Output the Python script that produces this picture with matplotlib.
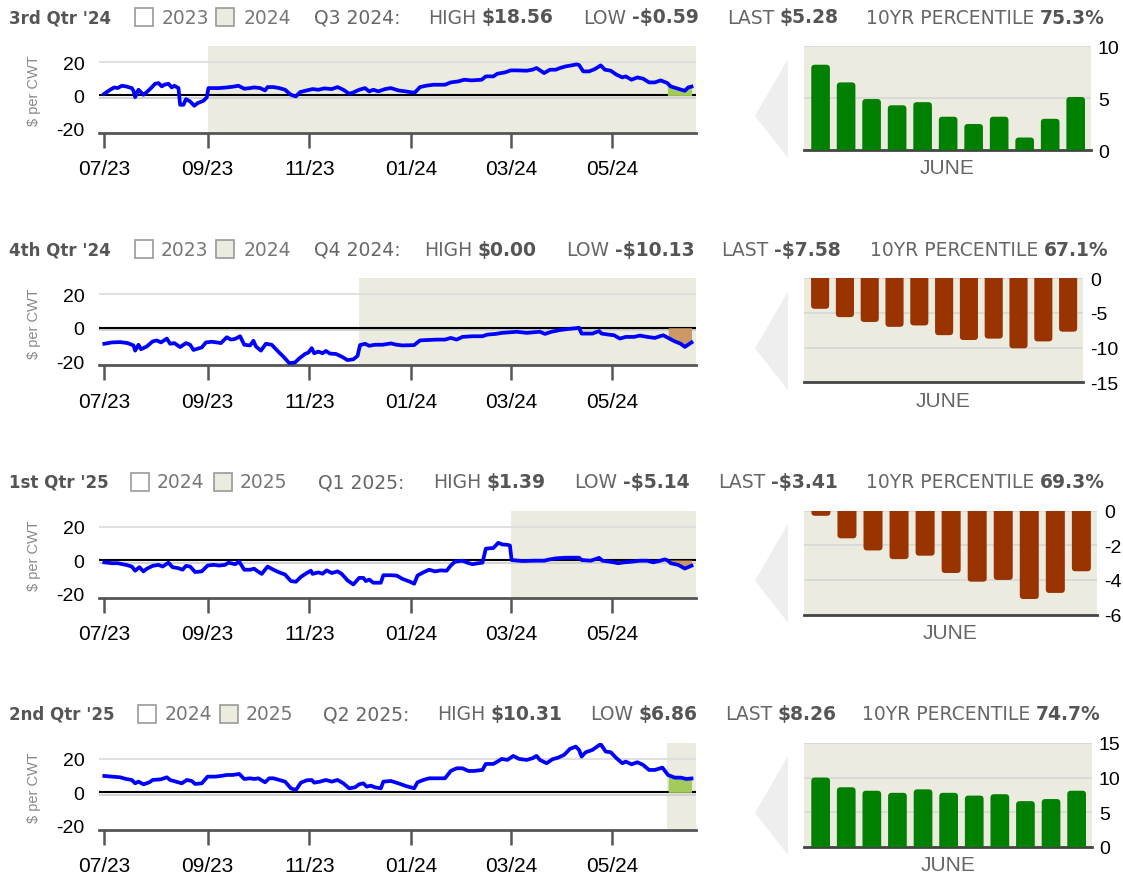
import numpy as np
import pandas as pd
import matplotlib
matplotlib.use("Agg")
import matplotlib.pyplot as plt
import matplotlib.dates as mdates
import matplotlib.transforms as mtransforms
from matplotlib.patches import Polygon, Rectangle, FancyBboxPatch

plt.rcParams["font.family"] = ["Liberation Sans", "DejaVu Sans"]
plt.rcParams["axes.unicode_minus"] = False

W, H = 1123, 879
BEIGE = "#ecebdf"
BLUE = "#0000ff"
GREEN = "#008000"
BROWN = "#993300"
FILL_GREEN = "#a2cb5a"
FILL_BROWN = "#cc9966"
ROW_STEP = 232.3

# ---- data (days after 2023-07-01, value in $/cwt) ----
days_q3_24 = [0, 3.5, 6, 8, 10.5, 13, 16.5, 17.5, 18.5, 20.5, 21.5, 23.5, 25.5, 28, 30.5, 32.5,
              34.5, 36, 38.5, 40.5, 42, 44.5, 45.5, 47.5, 49, 51.5, 54, 56, 59.5, 61.5, 62.5, 69,
              73.5, 77, 80.5, 84, 87.5, 90, 93.5, 96.5, 98, 101.5, 105, 108.5, 112, 115, 117.5,
              121.5, 125, 128.5, 132, 136.5, 140, 143.5, 147, 149.5, 153, 156.5, 159, 161.5, 164.5,
              168.5, 172, 176.5, 181, 184.5, 186.5, 189.5, 193, 197.5, 204.5, 208, 212.5, 216,
              220.5, 226.5, 229, 233.5, 236, 240.5, 244, 247.5, 253.5, 257, 259.5, 264, 267.5, 271,
              273.5, 277, 280.5, 283.5, 285, 287.5, 291, 294.5, 298, 300.5, 304, 307.5, 311, 313,
              316.5, 320, 323.5, 327, 330.5, 334, 338, 340, 344.5, 348.5, 350.5, 352.5]
vals_q3_24 = [1.0, 3.4, 4.8, 4.4, 5.8, 5.4, 4.4, 2.8, -1.0, 3.4, 2.4, 0.4, 2.0, 4.4, 7.0, 7.4,
              5.4, 6.4, 7.0, 4.8, 5.8, 4.4, -5.6, -5.6, -2.2, -3.6, -6.2, -4.6, -3.2, -1.2, 4.4, 4.4,
              4.8, 5.2, 5.8, 4.0, 4.4, 4.8, 4.4, 3.0, 5.0, 5.0, 4.4, 3.4, 0.4, -0.6, 2.0,
              3.0, 3.8, 3.4, 4.2, 3.8, 5.0, 3.4, 1.0, 1.8, 3.4, 4.4, 2.4, 3.4, 2.4,
              3.8, 4.4, 3.0, 2.4, 1.8, 1.8, 5.0, 5.8, 6.4, 6.4, 7.8, 8.4, 9.4,
              9.0, 9.4, 11.4, 11.4, 13.0, 13.8, 15.0, 15.0, 14.8, 15.4, 16.4, 13.4, 15.4, 15.4,
              16.4, 17.4, 18.0, 18.6, 18.2, 14.4, 14.4, 15.8, 18.0, 15.4, 14.8, 12.4, 10.8, 11.4,
              9.4, 10.8, 10.0, 7.8, 7.8, 9.0, 7.4, 5.4, 4.0, 2.8, 4.8, 5.3]

days_q4_24 = [0, 4.5, 9.5, 14, 17.5, 18.5, 20.5, 22, 25.5, 29, 31.5, 34, 37.5, 39.5, 42, 45.5,
              49, 51.5, 53.5, 58.5, 61, 64.5, 67.5, 70, 73.5, 76, 78.5, 81.5, 84, 87.5, 89.5, 91,
              94, 97, 100.5, 104, 107.5, 111, 114.5, 117, 120.5, 122.5, 124.5, 126, 128.5, 131,
              133, 135.5, 139, 142.5, 146, 149.5, 152, 153.5, 156.5, 159, 162.5, 167, 172, 175.5,
              179, 186, 189.5, 195, 200, 204.5, 208, 211.5, 215, 221, 227, 230, 235, 238.5, 244,
              247.5, 253.5, 258, 261.5, 264.5, 268.5, 273.5, 278, 283, 285, 286.5, 293, 297, 298.5,
              302.5, 306, 309.5, 313, 318, 321.5, 326, 330.5, 335.5, 338.5, 342.5, 346, 348.5, 352.5]
vals_q4_24 = [-9.6, -8.8, -8.6, -9.2, -10.6, -13.7, -10.2, -12.9, -11.2, -8.2, -7.6, -8.8, -6.5, -9.6, -9.2, -11.6,
              -9.2, -10.2, -13.3, -11.8, -8.8, -8.4, -8.8, -9.2, -5.7, -7.1, -6.7, -5.1, -10.2, -10.6, -7.8, -11.2,
              -13.7, -9.6, -10.2, -13.9, -17.3, -21.2, -20.8, -18.4, -15.7, -14.9, -12.2, -15.3, -14.3, -15.3,
              -13.9, -15.5, -15.7, -17.3, -19.4, -18.9, -16.9, -10.4, -9.6, -10.8, -10.2, -10.2, -9.4, -10.2,
              -10.6, -10.4, -7.6, -7.3, -7.1, -7.1, -6.1, -7.1, -5.5, -5.1, -5.1, -4.1, -3.7, -3.1, -2.7,
              -2.4, -3.1, -2.7, -2.4, -3.7, -2.4, -1.4, -0.8, -0.3, 0.0, -3.5, -3.5, -2.0, -3.5,
              -4.1, -4.5, -6.5, -5.5, -5.5, -4.7, -5.5, -6.1, -4.5, -6.1, -8.2, -9.6, -11.5, -8.8]

days_q1_25 = [0, 4.5, 8, 13, 16.5, 18.5, 21, 23.5, 25.5, 29, 32.5, 35, 38.5, 41, 44.5, 47, 49,
              51.5, 54.5, 58.5, 62, 65.5, 69, 72.5, 74.5, 78.5, 81, 84, 87.5, 90, 91.5, 94.5, 98,
              101.5, 105, 108.5, 112, 115, 118, 121.5, 124, 125, 128.5, 131, 133.5, 136.5, 140,
              142.5, 146, 149.5, 153, 155.5, 157, 159, 161.5, 166, 167.5, 172, 175.5, 179, 183.5,
              186, 188, 191.5, 195, 198.5, 202, 205.5, 208, 210.5, 215, 218, 221, 224.5, 227, 229,
              233.5, 236.5, 239, 242, 243.5, 244.5, 251, 258, 264, 266.5, 271, 277, 285, 286.5, 292,
              297, 299, 303.5, 308.5, 312, 316.5, 321.5, 326, 329.5, 333, 336.5, 338.5, 340, 344.5,
              348.5, 352.5]
vals_q1_25 = [-1.4, -1.9, -1.9, -2.9, -3.9, -6.4, -4.3, -6.8, -5.2, -3.5, -2.9, -3.9, -1.6, -4.3, -4.9, -5.8, -3.5,
              -3.9, -7.2, -6.8, -3.3, -2.9, -3.3, -2.9, -1.6, -2.5, -1.0, -5.8, -5.8, -5.2, -6.4, -8.3, -3.9,
              -5.8, -7.4, -8.7, -12.6, -13.0, -10.1, -7.8, -6.4, -8.3, -7.4, -8.2, -6.2, -7.8, -6.8,
              -8.3, -12.2, -14.6, -10.7, -10.7, -12.6, -11.7, -13.6, -13.6, -9.1, -9.1, -9.3, -11.3, -13.0,
              -14.2, -9.3, -7.4, -5.8, -6.8, -6.2, -6.4, -3.3, -1.0, -0.4, -1.6, -2.5, -1.9, -1.6, 6.8,
              7.2, 10.3, 9.3, 9.1, 8.7, 0.0, -0.6, -0.4, -0.4, 0.2, 1.0, 1.4, 1.4, 0.0, -0.4,
              1.3, -0.4, -1.0, -1.9, -1.4, -1.0, -0.4, -0.4, -1.4, -0.6, 0.4, -0.4, -1.9, -2.9,
              -5.1, -3.4]

days_q2_25 = [0, 4.5, 9.5, 13, 16.5, 18.5, 20.5, 23.5, 27, 29, 34, 37.5, 39.5, 43, 46.5, 49.5,
              52.5, 54.5, 58.5, 62, 66.5, 70, 73.5, 77, 81, 84, 87.5, 90, 92.5, 96.5, 99, 101.5,
              105, 108.5, 112, 115, 118, 121.5, 124.5, 126, 129.5, 133, 136.5, 140, 143.5, 147,
              150.5, 153, 155.5, 157.5, 160, 162.5, 166, 167.5, 172, 176.5, 181, 186, 188, 191.5,
              195, 200, 204.5, 208, 211.5, 215, 218.5, 222, 227, 229, 233.5, 236, 238.5, 242, 245.5,
              249, 253.5, 257, 259.5, 261.5, 265.5, 269, 272.5, 276, 279.5, 283, 285, 286.5, 289,
              293, 297, 298, 301, 304, 307.5, 311, 313, 316.5, 320, 323.5, 327, 330.5, 335, 338.5,
              342.5, 346, 349.5, 352.5]
vals_q2_25 = [9.8, 9.4, 9.0, 8.0, 7.4, 5.4, 6.4, 4.8, 6.0, 7.4, 7.8, 9.0, 7.4, 6.4, 5.4, 7.4,
              6.8, 5.0, 5.4, 9.4, 9.4, 9.8, 10.4, 10.4, 11.0, 8.0, 8.4, 8.0, 8.4, 6.0, 8.4, 8.4,
              7.4, 6.4, 2.4, 1.4, 5.8, 7.2, 7.4, 5.8, 6.4, 7.4, 6.4, 7.4, 5.4, 2.4,
              3.0, 4.8, 5.4, 3.4, 4.0, 3.0, 2.4, 6.4, 6.8, 5.4, 3.8, 2.4, 6.0, 7.4,
              8.4, 8.4, 8.4, 12.8, 14.4, 14.4, 12.8, 12.8, 13.4, 17.0, 17.0, 18.4, 20.0, 19.4, 21.8,
              20.0, 19.4, 20.4, 21.8, 19.4, 17.4, 19.8, 20.8, 22.4, 26.0, 27.4, 25.4, 21.4, 24.0,
              25.4, 28.2, 28.8, 24.4, 24.0, 20.4, 17.4, 18.4, 16.8, 18.0, 16.4, 13.4, 13.4, 14.8, 10.3,
              8.8, 8.8, 8.0, 8.3]

june_q3_24 = [8.2, 6.5, 4.9, 4.3, 4.6, 3.2, 2.5, 3.2, 1.2, 3.0, 5.1]
june_q4_24 = [-4.4, -5.6, -6.3, -7.0, -6.8, -8.2, -8.9, -8.7, -10.1, -9.1, -7.7]
june_q1_25 = [-0.3, -1.6, -2.3, -2.8, -2.6, -3.6, -4.1, -4.0, -5.1, -4.75, -3.5]
june_q2_25 = [10.0, 8.6, 8.1, 7.8, 8.3, 7.8, 7.4, 7.6, 6.6, 6.9, 8.1]

titles = ["3rd Qtr '24", "4th Qtr '24", "1st Qtr '25", "2nd Qtr '25"]
legend_years = [("2023", "2024"), ("2023", "2024"), ("2024", "2025"), ("2024", "2025")]
periods = ["Q3 2024:", "Q4 2024:", "Q1 2025:", "Q2 2025:"]
highs = ["$18.56", "$0.00", "$1.39", "$10.31"]
lows = ["-$0.59", "-$10.13", "-$5.14", "$6.86"]
lasts = ["$5.28", "-$7.58", "-$3.41", "$8.26"]
pctls = ["75.3%", "67.1%", "69.3%", "74.7%"]
shade_starts = ["2023-09-01", "2023-12-01", "2024-03-01", "2024-06-03"]
bar_ylims = [(0, 10), (-15, 0), (-6, 0), (0, 15)]
bar_yticks = [[0, 5, 10], [-15, -10, -5, 0], [-6, -4, -2, 0], [0, 5, 10, 15]]

# header layout (left x in pixels)
hdr_x = [
    dict(box1=135, y1=162, box2=216, y2=244, per=314, hi=428, lo=583, la=727, pc=866),
    dict(box1=135, y1=161, box2=216, y2=244, per=314, hi=424, lo=566, la=721, pc=870),
    dict(box1=131, y1=157, box2=214, y2=240, per=318, hi=433, lo=574, la=718, pc=866),
    dict(box1=138, y1=165, box2=220, y2=246, per=323, hi=437, lo=590, la=725, pc=862),
]
bar_right = [1091, 1083, 1097, 1092]

lines = [(days_q3_24, vals_q3_24), (days_q4_24, vals_q4_24),
         (days_q1_25, vals_q1_25), (days_q2_25, vals_q2_25)]
bars = [june_q3_24, june_q4_24, june_q1_25, june_q2_25]

t0 = pd.Timestamp("2023-07-01")
fig = plt.figure(figsize=(W / 100, H / 100), dpi=100)

bg = fig.add_axes([0, 0, 1, 1], zorder=-5)
bg.set_xlim(0, W)
bg.set_ylim(H, 0)
bg.axis("off")


def px_axes(l, t, r, b):
    return fig.add_axes([l / W, 1 - b / H, (r - l) / W, (b - t) / H])


HDR = dict(family="DejaVu Sans", fontsize=13.5, va="center")
BAR_W = 0.73
XL = (-0.65, 10.6)

for k in range(4):
    off = k * ROW_STEP
    hy = 18 + off
    hx = hdr_x[k]

    # ---- header ----
    bg.text(9, hy, titles[k], color="#555555", fontweight="bold",
            family="DejaVu Sans", fontsize=12, va="center")
    bg.add_patch(Rectangle((hx["box1"], hy - 9), 18, 18, fc="white", ec="#999999", lw=1.2))
    bg.add_patch(Rectangle((hx["box2"], hy - 9), 18, 18, fc=BEIGE, ec="#999999", lw=1.2))
    bg.text(hx["y1"], hy, legend_years[k][0], color="#777777", **HDR)
    bg.text(hx["y2"], hy, legend_years[k][1], color="#777777", **HDR)
    bg.text(hx["per"], hy, periods[k], color="#666666", **HDR)
    for key, lab, val in [("hi", "HIGH", highs[k]), ("lo", "LOW", lows[k]),
                          ("la", "LAST", lasts[k]), ("pc", "10YR PERCENTILE", pctls[k])]:
        t = bg.text(hx[key], hy, lab, color="#666666", **HDR)
        bg.annotate(val, xy=(1, 0.5), xycoords=t, xytext=(4, 0), textcoords="offset points",
                    color="#555555", fontweight="bold", family="DejaVu Sans", fontsize=13.5,
                    va="center", ha="left")

    bg.text(34, 91 + off, "$ per CWT", rotation=90, ha="center", va="center",
            fontsize=10.5, color="#888888")

    # ---- line chart ----
    ax = px_axes(98.5, 47 + off, 696, 134 + off)
    days = np.array(lines[k][0], dtype=float)
    vals = np.array(lines[k][1], dtype=float)
    dates = t0 + pd.to_timedelta(days, unit="D")
    x_lo = t0 + pd.Timedelta(days=-3.5)
    x_hi = t0 + pd.Timedelta(days=355.2)
    ax.set_xlim(x_lo, x_hi)
    ax.set_ylim(-22.5, 29.6)
    ax.axvspan(pd.Timestamp(shade_starts[k]), x_hi, color=BEIGE, lw=0, zorder=0)
    ax.axhline(20, color="#dddddd", lw=1.3, zorder=1)
    tr = ax.get_yaxis_transform() + mtransforms.ScaledTranslation(0, -2.5 / 100, fig.dpi_scale_trans)
    ax.plot([0, 1], [0, 0], transform=tr, color="#cccccc", lw=1.2, zorder=1)
    ax.axhline(0, color="black", lw=1.5, zorder=2)
    m = days >= 338
    fill_c = FILL_GREEN if vals[-1] > 0 else FILL_BROWN
    ax.fill_between(dates[m], vals[m], 0, color=fill_c, lw=0, zorder=2)
    ax.plot(dates, vals, color=BLUE, lw=2.7, zorder=3, solid_joinstyle="round")

    for s in ["left", "right", "top"]:
        ax.spines[s].set_visible(False)
    ax.spines["bottom"].set_color("#555555")
    ax.spines["bottom"].set_linewidth(2)
    ax.xaxis.set_major_locator(mdates.MonthLocator(bymonth=[1, 3, 5, 7, 9, 11]))
    ax.xaxis.set_major_formatter(mdates.DateFormatter("%m/%y"))
    ax.tick_params(axis="x", length=11, width=1.8, color="#555555", pad=8, labelsize=15)
    ax.set_yticks([-20, 0, 20])
    ax.tick_params(axis="y", length=0, pad=10, labelsize=14)
    ax.set_facecolor("white")

    # ---- triangle pointer ----
    bt = 47 + off
    bg.add_patch(Polygon([(755, bt + 70), (788, bt + 13), (788, bt + 112)],
                         closed=True, fc="#eeeeee", ec="none"))

    # ---- June bar chart ----
    bx = px_axes(804, 47 + off, bar_right[k], 151 + off)
    bx.set_facecolor(BEIGE)
    ylo, yhi = bar_ylims[k]
    bx.set_xlim(*XL)
    bx.set_ylim(ylo, yhi)
    bx.set_yticks(bar_yticks[k])
    bx.yaxis.tick_right()
    bx.set_xticks([])
    bx.grid(axis="y", color="#d6d6d6", lw=1.2)
    bx.set_axisbelow(True)
    for s in ["left", "right", "top"]:
        bx.spines[s].set_visible(False)
    bx.spines["bottom"].set_color("#444444")
    bx.spines["bottom"].set_linewidth(2)
    bx.tick_params(axis="y", length=0, pad=5, labelsize=14)
    bx.set_xlabel("JUNE", color="#666666", fontsize=15, labelpad=6)

    pw = bar_right[k] - 804
    xupp = (XL[1] - XL[0]) / pw
    yupp = (yhi - ylo) / 104.0
    r = 3.5 * xupp
    asp = yupp / xupp
    ext = 8 * yupp
    bvals = bars[k]
    col = GREEN if np.mean(bvals) > 0 else BROWN
    for i, v in enumerate(bvals):
        if v >= 0:
            y0, h = -ext, v + ext
        else:
            y0, h = v, -v + ext
        bx.add_patch(FancyBboxPatch((i - BAR_W / 2, y0), BAR_W, h,
                                    boxstyle=f"round,pad=0,rounding_size={r}",
                                    mutation_aspect=asp, fc=col, ec="none", zorder=3))

fig.savefig("out.png", dpi=100)
